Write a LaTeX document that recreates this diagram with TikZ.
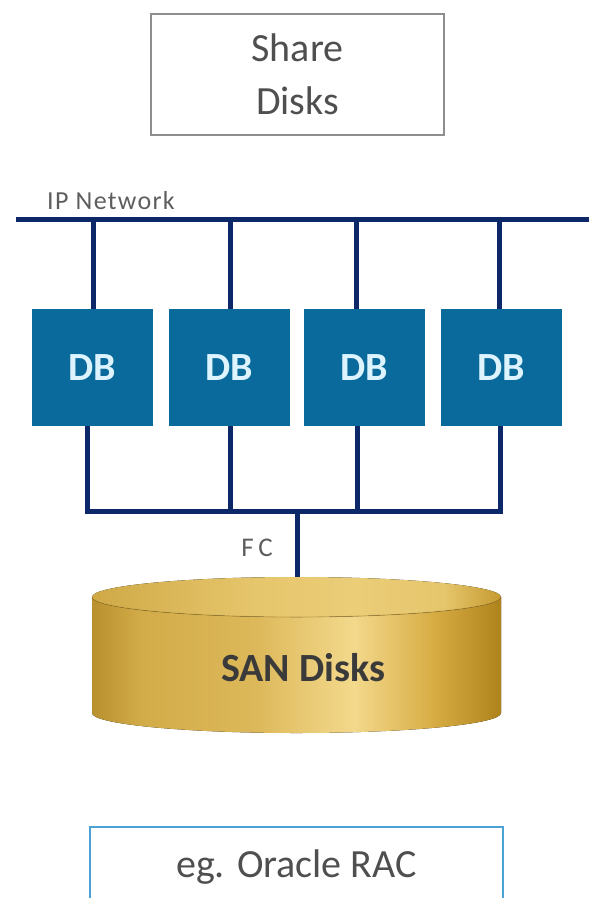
\documentclass[tikz,border=0pt]{standalone}
\usepackage{fontspec}
\setmainfont{Carlito}

\definecolor{netline}{HTML}{0C2868}
\definecolor{dbfill}{HTML}{0A6A9B}
\definecolor{dbtext}{HTML}{DDF4FF}
\definecolor{boxgray}{HTML}{8E8E8E}
\definecolor{txtgray}{HTML}{4F4F4F}
\definecolor{labgray}{HTML}{5E5E5E}
\definecolor{racblue}{HTML}{4BA3D3}
\definecolor{sandark}{HTML}{3A3A3A}
% gold tones for the disk cylinder
\definecolor{gA}{HTML}{B8902E}
\definecolor{gB}{HTML}{D2AC48}
\definecolor{gC}{HTML}{DDB85A}
\definecolor{gD}{HTML}{F3D98C}
\definecolor{gE}{HTML}{D6AB42}
\definecolor{gF}{HTML}{AE831C}
\definecolor{tA}{HTML}{CFA946}
\definecolor{tB}{HTML}{E6C66C}
\definecolor{tC}{HTML}{EBCD78}
\definecolor{tD}{HTML}{C59A30}

\pgfdeclarehorizontalshading{goldside}{100bp}{%
  color(0bp)=(gA); color(25bp)=(gA); color(31bp)=(gB); color(45bp)=(gC);
  color(57bp)=(gD); color(67bp)=(gE); color(75bp)=(gF); color(100bp)=(gF)}
\pgfdeclarehorizontalshading{goldtop}{100bp}{%
  color(0bp)=(tA); color(25bp)=(tA); color(45bp)=(tB);
  color(57bp)=(tC); color(68bp)=(tB); color(75bp)=(tD); color(100bp)=(tD)}

\tikzset{
  link/.style={draw=netline, line width=5pt},
  dbbox/.style={rectangle, fill=dbfill, minimum width=121pt, minimum height=117pt,
    inner sep=0pt, text=dbtext, font=\fontsize{40}{44}\selectfont\bfseries},
  smalllabel/.style={inner sep=0pt, text=labgray},
  framebox/.style={rectangle, draw=boxgray, line width=2.5pt, inner sep=0pt,
    text=txtgray, align=center, font=\fontsize{40}{53}\selectfont}
}

\begin{document}
\begin{tikzpicture}[x=1pt,y=-1pt]
\useasboundingbox (0,0) rectangle (589,898);
\begin{scope}
\clip (0,0) rectangle (589,898);

% shared disks caption box
\node[framebox, minimum width=293pt, minimum height=121pt] (share) at (297.5,74.5)
  {Share\\Disks};

% IP network backbone
\coordinate (netL) at (16,219);
\coordinate (netR) at (592,219);
\draw[link] (netL) -- (netR);
\node[smalllabel, anchor=west,
  font=\fontsize{26}{30}\selectfont\addfontfeature{LetterSpace=5}]
  (iplab) at (47,201) {IP Network};

% database nodes
\node[dbbox] (db1) at (92.5,367.5) {DB};
\node[dbbox] (db2) at (229,367.5) {DB};
\node[dbbox] (db3) at (364.5,367.5) {DB};
\node[dbbox] (db4) at (501,367.5) {DB};

% taps on the IP network
\coordinate (n1) at (93,219);
\coordinate (n2) at (230,219);
\coordinate (n3) at (356,219);
\coordinate (n4) at (499,219);
\foreach \i in {1,2,3,4} \draw[link] (n\i) -- (n\i |- db\i.north);

% fibre channel bus
\coordinate (b1) at (87.5,511);
\coordinate (b2) at (230,511);
\coordinate (b3) at (357,511);
\coordinate (b4) at (500,511);
\foreach \i in {1,2,3,4} \draw[link] (b\i |- db\i.south) -- (b\i);
\draw[link, line cap=rect] (b1) -- (b4);

% SAN disk cylinder
\fill[shading=goldside]
  (92,597) -- (92,713) arc[start angle=180, end angle=0, x radius=204.5, y radius=20]
  -- (501,597) arc[start angle=0, end angle=180, x radius=204.5, y radius=20] -- cycle;
\fill[shading=goldtop] (296.5,597) ellipse[x radius=204.5, y radius=20];
\draw[gA!80!black, line width=0.8pt, opacity=0.5]
  (92,597) arc[start angle=180, end angle=0, x radius=204.5, y radius=20];
\coordinate (santop) at (297,577);
\node[inner sep=0pt, text=sandark, font=\fontsize{40}{44}\selectfont\bfseries]
  (san) at (303,668) {SAN Disks};

% FC link from the bus down to the disks
\coordinate (fc) at (297,511);
\draw[link] (fc) -- (santop);
\node[smalllabel, font=\fontsize{27}{30}\selectfont\addfontfeature{LetterSpace=18}]
  (fclab) at (257,548) {FC};

% example caption
\node[framebox, draw=racblue, minimum width=413pt, minimum height=80pt] (rac)
  at (296.5,867) {eg. Oracle RAC};
\end{scope}
\end{tikzpicture}
\end{document}
